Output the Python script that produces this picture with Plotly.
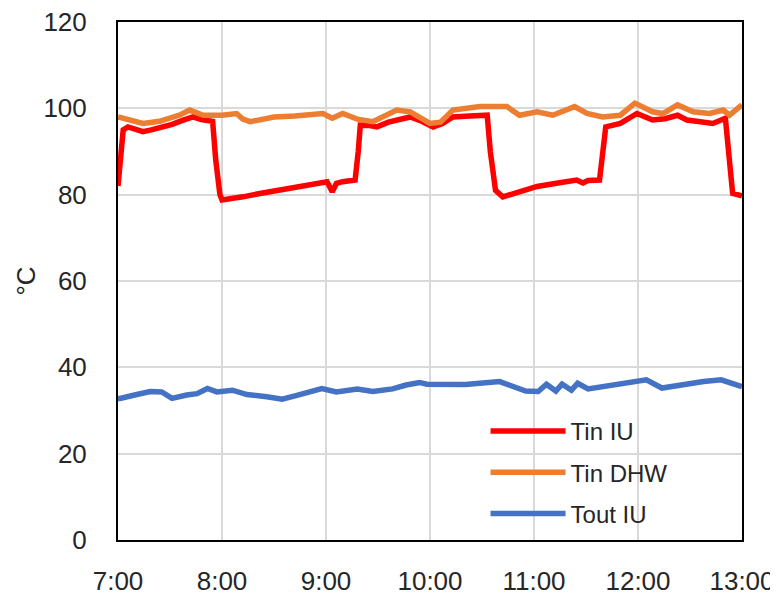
import plotly.graph_objects as go

# hours after 7:00
tin_iu_t = [0.0, 0.02, 0.05, 0.096, 0.16, 0.24, 0.32, 0.40, 0.52, 0.62, 0.72, 0.80, 0.86, 0.91,
            0.94, 0.98, 1.0, 1.1, 1.2, 1.35, 1.53, 1.7, 1.85, 2.01, 2.06, 2.10, 2.16, 2.28,
            2.31, 2.33, 2.42, 2.49, 2.6, 2.72, 2.81, 2.92, 3.03, 3.12, 3.22, 3.38, 3.55,
            3.58, 3.63, 3.70, 3.85, 4.03, 4.2, 4.41, 4.47, 4.52, 4.63, 4.66, 4.69, 4.83,
            4.99, 5.14, 5.26, 5.38, 5.47, 5.6, 5.72, 5.84, 5.88, 5.91, 6.0]
tin_iu = [82, 88, 95, 95.7, 95.2, 94.6, 95.0, 95.4, 96.3, 97.2, 98.0, 97.4, 97.2, 97.0,
          88, 80, 78.8, 79.3, 79.5, 80.2, 81.0, 81.6, 82.2, 83.0, 80.7, 82.6, 83.0, 83.4,
          90, 96.1, 96.0, 95.7, 96.8, 97.5, 98.0, 97.0, 95.7, 96.5, 98.0, 98.2, 98.4,
          90, 81, 79.5, 80.6, 81.9, 82.6, 83.4, 82.7, 83.3, 83.4, 90, 95.7, 96.5,
          98.8, 97.3, 97.6, 98.4, 97.3, 96.9, 96.5, 97.7, 88, 80.3, 79.7]

tin_dhw_t = [0.0, 0.1, 0.24, 0.4, 0.6, 0.69, 0.82, 1.0, 1.14, 1.2, 1.27, 1.5, 1.7, 1.97,
             2.06, 2.16, 2.3, 2.45, 2.68, 2.81, 3.0, 3.1, 3.22, 3.48, 3.74, 3.86, 4.03,
             4.18, 4.39, 4.51, 4.66, 4.83, 4.97, 5.14, 5.24, 5.38, 5.53, 5.69, 5.82, 5.88, 6.0]
tin_dhw = [98, 97.5, 96.5, 97, 98.5, 99.6, 98.4, 98.4, 98.8, 97.5, 96.9, 98, 98.2, 98.8,
           97.7, 98.8, 97.5, 96.9, 99.6, 99.2, 96.5, 96.8, 99.6, 100.4, 100.4, 98.4, 99.2,
           98.4, 100.4, 98.8, 98, 98.4, 101.2, 99.2, 98.8, 100.8, 99.2, 98.8, 99.6, 98.4, 100.8]

tout_iu_t = [0.0, 0.02, 0.18, 0.31, 0.42, 0.52, 0.66, 0.76, 0.86, 0.95, 1.10, 1.24, 1.43,
             1.58, 1.72, 1.84, 1.96, 2.10, 2.30, 2.45, 2.64, 2.77, 2.90, 2.97, 3.02, 3.14,
             3.34, 3.67, 3.79, 3.92, 4.04, 4.12, 4.21, 4.27, 4.36, 4.42, 4.52, 4.65, 4.84,
             4.96, 5.08, 5.23, 5.38, 5.51, 5.63, 5.80, 6.0]
tout_iu = [32.8, 32.8, 33.7, 34.4, 34.3, 32.8, 33.6, 33.9, 35.1, 34.3, 34.7, 33.7, 33.2,
           32.6, 33.5, 34.4, 35.1, 34.3, 35.0, 34.4, 35.0, 35.9, 36.5, 36.1, 36.1, 36.3,
           36.0, 36.7, 35.5, 34.5, 34.4, 36.1, 34.5, 36.1, 34.7, 36.3, 35.0, 35.5, 36.0,
           36.7, 37.1, 35.2, 35.8, 36.1, 36.7, 37.1, 35.5]

x_tickvals = [0, 1, 2, 3, 4, 5, 6]
x_ticktext = ["7:00", "8:00", "9:00", "10:00", "11:00", "12:00", "13:00"]
y_tickvals = [0, 20, 40, 60, 80, 100, 120]

FONT = "Liberation Sans"
TXT = "#262626"

fig = go.Figure()
fig.add_trace(go.Scatter(x=tin_iu_t, y=tin_iu, mode="lines", name="Tin IU", legendgroup="a",
                         line=dict(color="#FF0000", width=5.5)))
fig.add_trace(go.Scatter(x=tin_dhw_t, y=tin_dhw, mode="lines", name="Tin DHW", legendgroup="b",
                         line=dict(color="#ED7D31", width=5.5)))
fig.add_trace(go.Scatter(x=tout_iu_t, y=tout_iu, mode="lines", name="Tout IU", legendgroup="c",
                         line=dict(color="#4472C4", width=5.5)))

fig.update_layout(
    width=770, height=588,
    margin=dict(l=110, r=36, t=14, b=56),
    paper_bgcolor="white", plot_bgcolor="white",
    font=dict(family=FONT, size=26, color=TXT),
    legend=dict(x=0.589, y=0.253, xanchor="left", yanchor="top",
                bgcolor="rgba(0,0,0,0)", itemwidth=75, tracegroupgap=7,
                font=dict(family=FONT, size=24, color=TXT)),
    xaxis=dict(range=[0, 6], tickvals=x_tickvals, ticktext=x_ticktext,
               showgrid=True, gridcolor="#d9d9d9", gridwidth=1.5,
               showline=True, linecolor="black", linewidth=2, mirror=True,
               ticks="outside", ticklen=17, tickcolor="rgba(0,0,0,0)",
               zeroline=False, tickfont=dict(size=26), automargin=False,
               ticklabeloverflow="allow"),
    yaxis=dict(range=[0, 120], tickvals=y_tickvals,
               showgrid=True, gridcolor="#d9d9d9", gridwidth=1.5,
               showline=True, linecolor="black", linewidth=2, mirror=True,
               ticks="outside", ticklen=24, tickcolor="rgba(0,0,0,0)",
               zeroline=False, tickfont=dict(size=26), automargin=False,
               ticklabeloverflow="allow",
               title=dict(text="°C", font=dict(size=26), standoff=0)),
)

fig.write_html("out.html")
